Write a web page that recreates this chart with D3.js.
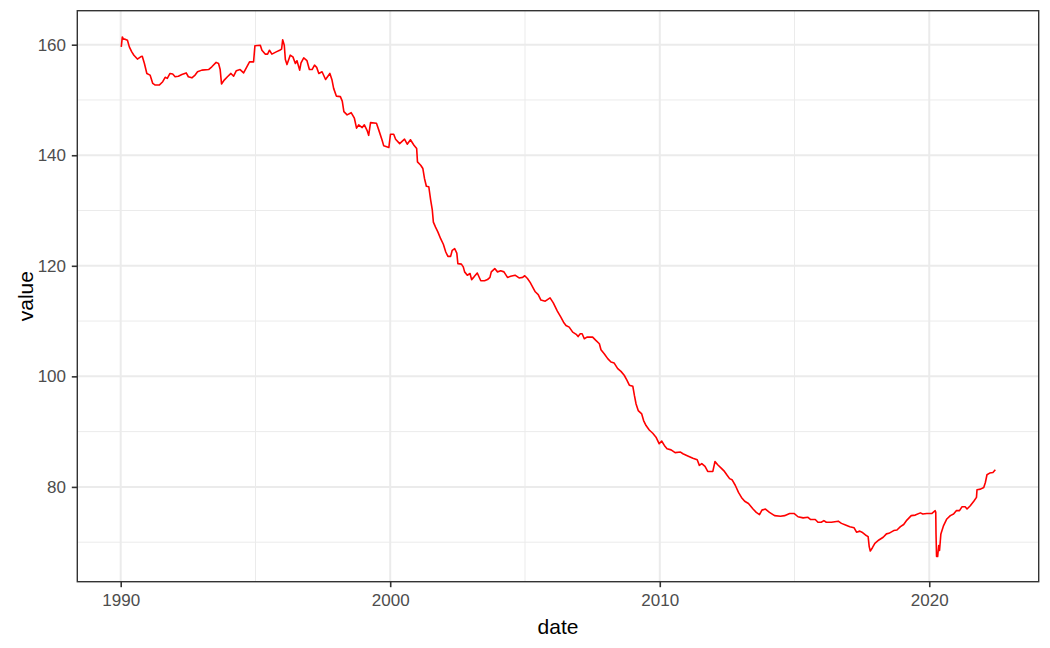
<!DOCTYPE html>
<html>
<head>
<meta charset="utf-8">
<script src="https://cdn.jsdelivr.net/npm/d3@7"></script>
<style>
  html, body { margin: 0; padding: 0; background: #fff; }
  svg { display: block; font-family: "Liberation Sans", Arial, sans-serif; }
</style>
</head>
<body>
<svg id="chart" width="1050" height="648"></svg>
<script>
// ---- data (decimal year, value) ----
const years = [
1990.02,1990.06,1990.10,1990.16,1990.25,1990.32,1990.41,1990.49,1990.62,1990.74,1990.80,1990.88,1990.97,
1991.09,1991.19,1991.28,1991.43,1991.56,1991.65,1991.73,1991.83,1991.93,
1992.02,1992.14,1992.27,1992.43,1992.51,1992.64,1992.76,1992.85,
1993.01,1993.26,1993.38,1993.54,1993.63,1993.69,1993.74,1993.84,1993.96,
1994.09,1994.19,1994.29,1994.43,1994.56,1994.68,1994.78,1994.93,1994.98,
1995.18,1995.24,1995.36,1995.45,1995.52,1995.61,1995.77,1995.90,1995.97,
1996.01,1996.07,1996.11,1996.17,1996.29,1996.39,1996.48,1996.54,1996.64,1996.69,1996.79,1996.91,
1997.00,1997.10,1997.19,1997.27,1997.35,1997.47,1997.60,1997.76,1997.84,1997.90,
1998.00,1998.15,1998.22,1998.28,1998.40,1998.55,1998.67,1998.75,1998.83,1998.96,
1999.04,1999.14,1999.20,1999.27,1999.49,1999.58,1999.70,1999.76,1999.95,
2000.01,2000.13,2000.20,2000.35,2000.53,2000.63,2000.75,2000.88,2000.98,
2001.01,2001.13,2001.21,2001.27,2001.34,2001.43,2001.50,2001.56,2001.60,2001.68,2001.77,2001.87,2001.97,
2002.06,2002.14,2002.24,2002.30,2002.39,2002.47,2002.51,2002.64,2002.71,2002.76,2002.86,2002.96,
2003.02,2003.11,2003.23,2003.36,2003.50,2003.61,2003.70,2003.75,2003.88,2003.98,
2004.10,2004.22,2004.35,2004.47,2004.63,2004.78,2004.91,2004.99,
2005.09,2005.19,2005.28,2005.38,2005.49,2005.59,2005.75,2005.93,
2006.05,2006.20,2006.33,2006.43,2006.52,2006.64,2006.77,2006.90,2006.97,
2007.05,2007.12,2007.20,2007.30,2007.51,2007.63,2007.76,2007.82,2007.94,
2008.07,2008.19,2008.31,2008.44,2008.56,2008.68,2008.78,2008.87,
2009.00,2009.06,2009.12,2009.20,2009.33,2009.40,2009.49,2009.61,2009.74,2009.86,2009.98,
2010.07,2010.17,2010.27,2010.42,2010.57,2010.77,2010.86,
2011.04,2011.23,2011.39,2011.47,2011.56,2011.68,2011.78,2011.97,
2012.05,2012.15,2012.28,2012.40,2012.50,2012.59,2012.68,2012.80,2012.92,
2013.03,2013.15,2013.29,2013.46,2013.58,2013.70,2013.79,2013.92,
2014.07,2014.26,2014.48,2014.63,2014.82,2014.98,
2015.13,2015.32,2015.50,2015.60,2015.77,2015.87,2015.99,
2016.09,2016.18,2016.37,2016.62,2016.74,2016.89,
2017.05,2017.21,2017.30,2017.42,2017.50,2017.63,2017.73,2017.77,2017.81,2017.89,2017.98,
2018.13,2018.29,2018.41,2018.50,2018.68,2018.80,2018.93,
2019.05,2019.17,2019.33,2019.48,2019.67,2019.76,2019.91,
2020.10,2020.22,2020.24,2020.25,2020.27,2020.31,2020.35,2020.38,2020.43,2020.53,2020.65,2020.78,2020.90,
2021.00,2021.12,2021.21,2021.33,2021.40,2021.52,2021.65,2021.75,2021.77,2021.90,
2022.02,2022.08,2022.14,2022.24,2022.36,2022.45
];
const values = [
159.6,161.4,161.0,161.0,160.8,159.6,158.7,158.1,157.4,157.8,157.9,156.6,154.8,
154.5,153.0,152.7,152.7,153.3,154.1,153.9,154.8,154.7,
154.2,154.3,154.6,154.9,154.2,154.0,154.5,155.1,
155.4,155.5,156.0,156.8,156.6,155.5,152.9,153.6,154.2,
154.8,154.3,155.3,155.5,154.9,156.0,156.9,156.9,159.8,
159.9,159.0,158.3,158.3,159.0,158.3,158.7,159.0,159.2,
160.9,159.9,157.3,156.4,158.1,157.8,156.6,157.1,155.4,156.7,157.6,157.1,
155.5,155.5,156.3,155.9,154.8,155.1,153.7,154.8,153.6,152.1,
150.7,150.6,149.8,147.9,147.3,147.7,146.7,144.9,145.5,145.0,
145.5,144.5,143.6,145.9,145.8,144.5,142.7,141.7,141.4,
143.8,143.8,142.9,142.1,142.9,142.0,142.8,141.8,141.2,
138.8,138.2,137.6,135.8,134.4,134.3,131.9,130.1,127.9,127.0,126.1,124.9,123.9,
122.5,121.7,121.7,122.8,123.1,122.3,120.4,120.3,119.8,118.9,118.3,118.6,
117.5,118.0,118.7,117.3,117.3,117.5,117.9,118.9,119.5,118.9,
119.1,118.9,117.9,118.1,118.3,117.8,117.9,118.2,
117.7,117.0,116.2,115.3,114.8,113.8,113.6,114.2,
113.3,111.8,110.7,109.8,109.2,108.9,108.0,107.6,107.2,
107.7,107.7,106.8,107.1,107.1,106.5,105.9,104.8,104.1,
103.2,102.6,102.4,101.4,100.9,100.2,99.3,98.4,
98.2,96.5,95.0,93.8,93.2,92.0,91.1,90.3,89.7,89.0,87.8,
88.3,87.5,86.9,86.7,86.2,86.3,86.0,
85.6,85.2,84.9,83.9,84.2,83.7,82.8,82.8,
84.6,84.0,83.4,82.8,82.1,81.5,81.3,80.3,79.0,
78.1,77.4,77.0,76.0,75.4,75.0,75.8,76.0,
75.4,74.8,74.7,74.8,75.2,75.2,
74.6,74.4,74.5,74.1,74.1,73.6,73.6,
73.9,73.6,73.6,73.8,73.4,73.1,
72.8,72.6,71.8,72.0,71.8,71.3,71.0,69.2,68.4,69.0,69.8,
70.4,70.9,71.5,71.6,72.1,72.2,72.8,
73.2,74.0,74.8,74.9,75.3,75.1,75.2,
75.2,75.7,75.4,71.5,67.4,67.4,69.4,68.5,71.5,73.0,74.2,74.8,75.1,
75.7,75.7,76.4,76.4,76.0,76.6,77.4,78.1,79.5,79.6,
79.9,80.8,82.2,82.5,82.6,83.1
];
const xMajorYears = [1990, 2000, 2010, 2020];
const xMinorYears = [1995, 2005, 2015];
const yMajorTicks = [80, 100, 120, 140, 160];
const yMinorTicks = [70, 90, 110, 130, 150];
const xTitle = "date";
const yTitle = "value";

// ---- helpers ----
function decToDate(y) {
  const yr = Math.floor(y);
  const s = Date.UTC(yr, 0, 1), e = Date.UTC(yr + 1, 0, 1);
  return new Date(s + (y - yr) * (e - s));
}
const data = years.map((y, i) => ({ date: decToDate(y), value: values[i] }));

// ---- layout ----
const panel = { left: 77.3, right: 1038.7, top: 10.7, bottom: 581.7 };
const svg = d3.select("#chart");

const x = d3.scaleUtc()
  .domain([decToDate(1988.39), decToDate(2024.06)])
  .range([panel.left, panel.right]);
const y = d3.scaleLinear()
  .domain([62.85, 166.15])
  .range([panel.bottom, panel.top]);

// panel background
svg.append("rect")
  .attr("x", panel.left).attr("y", panel.top)
  .attr("width", panel.right - panel.left).attr("height", panel.bottom - panel.top)
  .attr("fill", "#FFFFFF");

const grid = svg.append("g");
// minor grid
grid.selectAll(".xminor").data(xMinorYears).enter().append("line")
  .attr("x1", d => x(decToDate(d))).attr("x2", d => x(decToDate(d)))
  .attr("y1", panel.top).attr("y2", panel.bottom)
  .attr("stroke", "#EBEBEB").attr("stroke-width", 1);
grid.selectAll(".yminor").data(yMinorTicks).enter().append("line")
  .attr("y1", d => y(d)).attr("y2", d => y(d))
  .attr("x1", panel.left).attr("x2", panel.right)
  .attr("stroke", "#EBEBEB").attr("stroke-width", 1);
// major grid
grid.selectAll(".xmajor").data(xMajorYears).enter().append("line")
  .attr("x1", d => x(decToDate(d))).attr("x2", d => x(decToDate(d)))
  .attr("y1", panel.top).attr("y2", panel.bottom)
  .attr("stroke", "#EBEBEB").attr("stroke-width", 2);
grid.selectAll(".ymajor").data(yMajorTicks).enter().append("line")
  .attr("y1", d => y(d)).attr("y2", d => y(d))
  .attr("x1", panel.left).attr("x2", panel.right)
  .attr("stroke", "#EBEBEB").attr("stroke-width", 2);

// line
const line = d3.line().x(d => x(d.date)).y(d => y(d.value));
svg.append("path")
  .datum(data)
  .attr("d", line)
  .attr("fill", "none")
  .attr("stroke", "#FF0000")
  .attr("stroke-width", 1.6)
  .attr("stroke-linejoin", "round");

// border
svg.append("rect")
  .attr("x", panel.left).attr("y", panel.top)
  .attr("width", panel.right - panel.left).attr("height", panel.bottom - panel.top)
  .attr("fill", "none")
  .attr("stroke", "#333333").attr("stroke-width", 1.4);

// axes
const xAxis = d3.axisBottom(x)
  .tickValues(xMajorYears.map(decToDate))
  .tickFormat(d3.utcFormat("%Y"))
  .tickSize(5.5).tickPadding(6.5);
const gx = svg.append("g")
  .attr("transform", `translate(0,${panel.bottom})`)
  .call(xAxis);
gx.select(".domain").remove();
gx.selectAll(".tick line").attr("stroke", "#333333").attr("stroke-width", 1.6);
gx.selectAll(".tick text").attr("fill", "#4D4D4D").attr("font-size", 17)
  .attr("font-family", "'Liberation Sans', Arial, sans-serif");

const yAxis = d3.axisLeft(y)
  .tickValues(yMajorTicks)
  .tickSize(5.5).tickPadding(5.8);
const gy = svg.append("g")
  .attr("transform", `translate(${panel.left},0)`)
  .call(yAxis);
gy.select(".domain").remove();
gy.selectAll(".tick line").attr("stroke", "#333333").attr("stroke-width", 1.6);
gy.selectAll(".tick text").attr("fill", "#4D4D4D").attr("font-size", 17)
  .attr("font-family", "'Liberation Sans', Arial, sans-serif");

// titles
svg.append("text")
  .attr("x", (panel.left + panel.right) / 2)
  .attr("y", 634)
  .attr("text-anchor", "middle")
  .attr("font-size", 21)
  .attr("fill", "#000000")
  .text(xTitle);
svg.append("text")
  .attr("transform", `translate(33,${(panel.top + panel.bottom) / 2}) rotate(-90)`)
  .attr("text-anchor", "middle")
  .attr("font-size", 21)
  .attr("fill", "#000000")
  .text(yTitle);
</script>
</body>
</html>
